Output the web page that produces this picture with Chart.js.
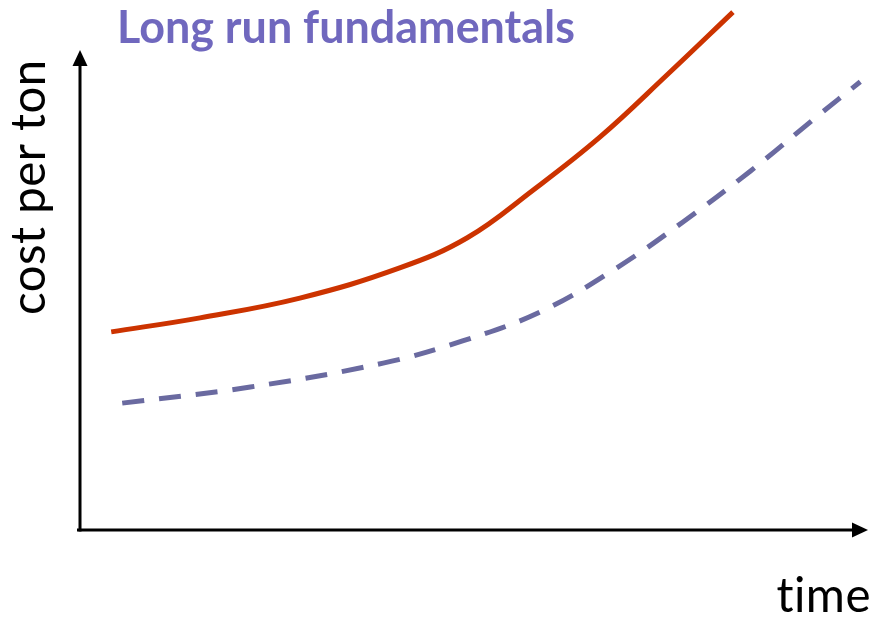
<!DOCTYPE html>
<html>
<head>
<meta charset="utf-8">
<script src="https://cdn.jsdelivr.net/npm/chart.js@4/dist/chart.umd.min.js"></script>
<style>
  html, body { margin: 0; padding: 0; background: #ffffff; }
  #wrap { width: 877px; height: 620px; position: relative; }
</style>
</head>
<body>
<div id="wrap"><canvas id="c" width="877" height="620"></canvas></div>
<script>
// ---- data (arbitrary units) ----
const chartTitle = "Long run fundamentals";
const yAxisLabel = "cost per ton";
const xAxisLabel = "time";

const redTime  = [4.1, 15.4, 28.1, 40.8, 49.4, 57.8, 66.3, 74.8, 83.2];
const redCost  = [38.1, 40.8, 44.6, 50.4, 56.2, 65.4, 75.6, 87.5, 99.6];

const blueTime = [5.5, 21.8, 38.7, 48.9, 58.9, 68.2, 76.8, 85.4, 93.8, 99.4];
const blueCost = [24.4, 27.5, 32.1, 36.4, 42.1, 50.2, 59.2, 69.0, 79.4, 86.2];

const toPoints = (xs, ys) => xs.map((x, i) => ({ x: x, y: ys[i] }));

function fitFont(ctx, text, weight, family, targetWidth) {
  let fs = 40;
  ctx.font = weight + ' ' + fs + 'px ' + family;
  fs = fs * targetWidth / ctx.measureText(text).width;
  ctx.font = weight + ' ' + fs + 'px ' + family;
  return fs;
}

const axesAndText = {
  id: 'axesAndText',
  afterDraw(chart) {
    const ctx = chart.ctx;
    const xs = chart.scales.x, ys = chart.scales.y;
    const x0 = xs.getPixelForValue(0);
    const y0 = ys.getPixelForValue(0);
    const area = chart.chartArea;
    ctx.save();
    ctx.strokeStyle = '#000';
    ctx.fillStyle = '#000';
    ctx.lineWidth = 3;
    // y axis
    const yTip = 50;
    ctx.beginPath();
    ctx.moveTo(x0 + 1, y0 + 1.5);
    ctx.lineTo(x0 + 1, yTip + 12);
    ctx.stroke();
    ctx.beginPath();
    ctx.moveTo(x0 + 1, yTip);
    ctx.lineTo(x0 - 6.5, yTip + 16);
    ctx.lineTo(x0 + 8.5, yTip + 16);
    ctx.closePath();
    ctx.fill();
    // x axis
    const xTip = area.right + 3;
    ctx.beginPath();
    ctx.moveTo(x0 - 2, y0);
    ctx.lineTo(xTip - 12, y0);
    ctx.stroke();
    ctx.beginPath();
    ctx.moveTo(xTip, y0);
    ctx.lineTo(xTip - 16, y0 - 7.5);
    ctx.lineTo(xTip - 16, y0 + 7.5);
    ctx.closePath();
    ctx.fill();

    const fam = 'Lato, "Open Sans", sans-serif';
    ctx.textBaseline = 'alphabetic';

    // title
    ctx.textAlign = 'left';
    ctx.fillStyle = '#7068BE';
    fitFont(ctx, chartTitle, 'bold', fam, 458);
    ctx.fillText(chartTitle, 117, 43);

    // labels (small letter spacing avoids the Lato "ti" ligature)
    ctx.fillStyle = '#000';
    if ('letterSpacing' in ctx) ctx.letterSpacing = '0.5px';
    fitFont(ctx, xAxisLabel, 'normal', fam, 95);
    ctx.textAlign = 'right';
    ctx.fillText(xAxisLabel, 871, 612);

    fitFont(ctx, yAxisLabel, 'normal', fam, 257);
    ctx.translate(45, 315);
    ctx.rotate(-Math.PI / 2);
    ctx.textAlign = 'left';
    ctx.fillText(yAxisLabel, 0, 0);
    ctx.restore();
  }
};

new Chart(document.getElementById('c'), {
  type: 'line',
  data: {
    datasets: [
      {
        label: 'cost',
        data: toPoints(redTime, redCost),
        borderColor: '#CC3300',
        borderWidth: 5,
        pointRadius: 0,
        fill: false,
        tension: 0.4,
        clip: false
      },
      {
        label: 'fundamentals',
        data: toPoints(blueTime, blueCost),
        borderColor: '#6A6AA0',
        borderWidth: 5,
        borderDash: [22, 15],
        borderCapStyle: 'butt',
        pointRadius: 0,
        fill: false,
        tension: 0.4,
        clip: false
      }
    ]
  },
  options: {
    responsive: false,
    animation: false,
    devicePixelRatio: 1,
    layout: { padding: { left: 79, right: 12, top: 10, bottom: 90 } },
    plugins: {
      legend: { display: false },
      tooltip: { enabled: false },
      title: { display: false }
    },
    scales: {
      x: { type: 'linear', min: 0, max: 100, display: false },
      y: { type: 'linear', min: 0, max: 100, display: false }
    }
  },
  plugins: [axesAndText]
});
</script>
</body>
</html>
